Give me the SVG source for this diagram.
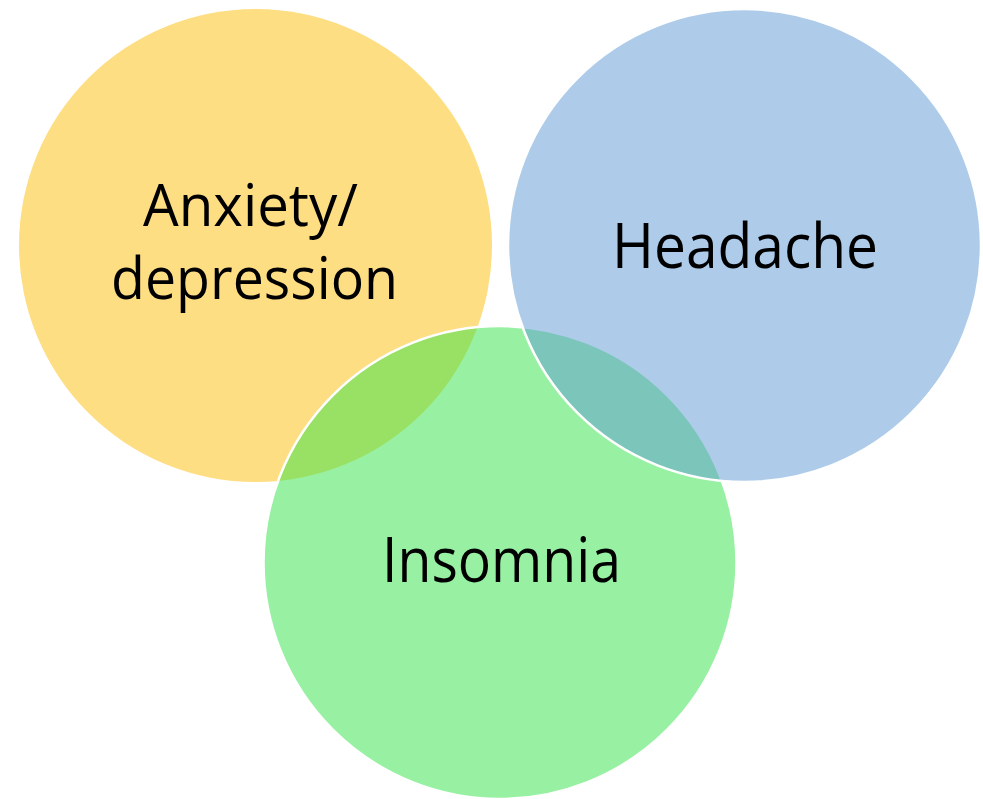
<svg xmlns="http://www.w3.org/2000/svg" width="983" height="799" viewBox="0 0 983 799">
<style>
.lbl{font-family:"Open Sans","Noto Sans","Liberation Sans",sans-serif;font-size:62px;fill:#000;text-anchor:middle}
.sm{font-size:58px}
.ov{stroke:#fff;stroke-width:2.5}
</style>
<rect width="983" height="799" fill="#fff"/>
<g id="anxiety">
<circle cx="255.5" cy="245.5" r="236.5" fill="#FEDE83"/>
<text class="lbl sm" x="250.5" y="226" textLength="215" lengthAdjust="spacingAndGlyphs">Anxiety/</text>
<text class="lbl sm" x="254.5" y="299" textLength="287" lengthAdjust="spacingAndGlyphs">depression</text>
</g>
<g id="insomnia">
<circle class="ov" cx="500" cy="562.5" r="236.5" fill="#31E345" fill-opacity="0.5"/>
<text class="lbl" x="501.5" y="582" textLength="239" lengthAdjust="spacingAndGlyphs">Insomnia</text>
</g>
<g id="headache">
<circle class="ov" cx="744.5" cy="245.5" r="236.5" fill="#5D99D3" fill-opacity="0.5"/>
<text class="lbl" x="745" y="268" textLength="266" lengthAdjust="spacingAndGlyphs">Headache</text>
</g>
<g id="connectors"/>
</svg>
